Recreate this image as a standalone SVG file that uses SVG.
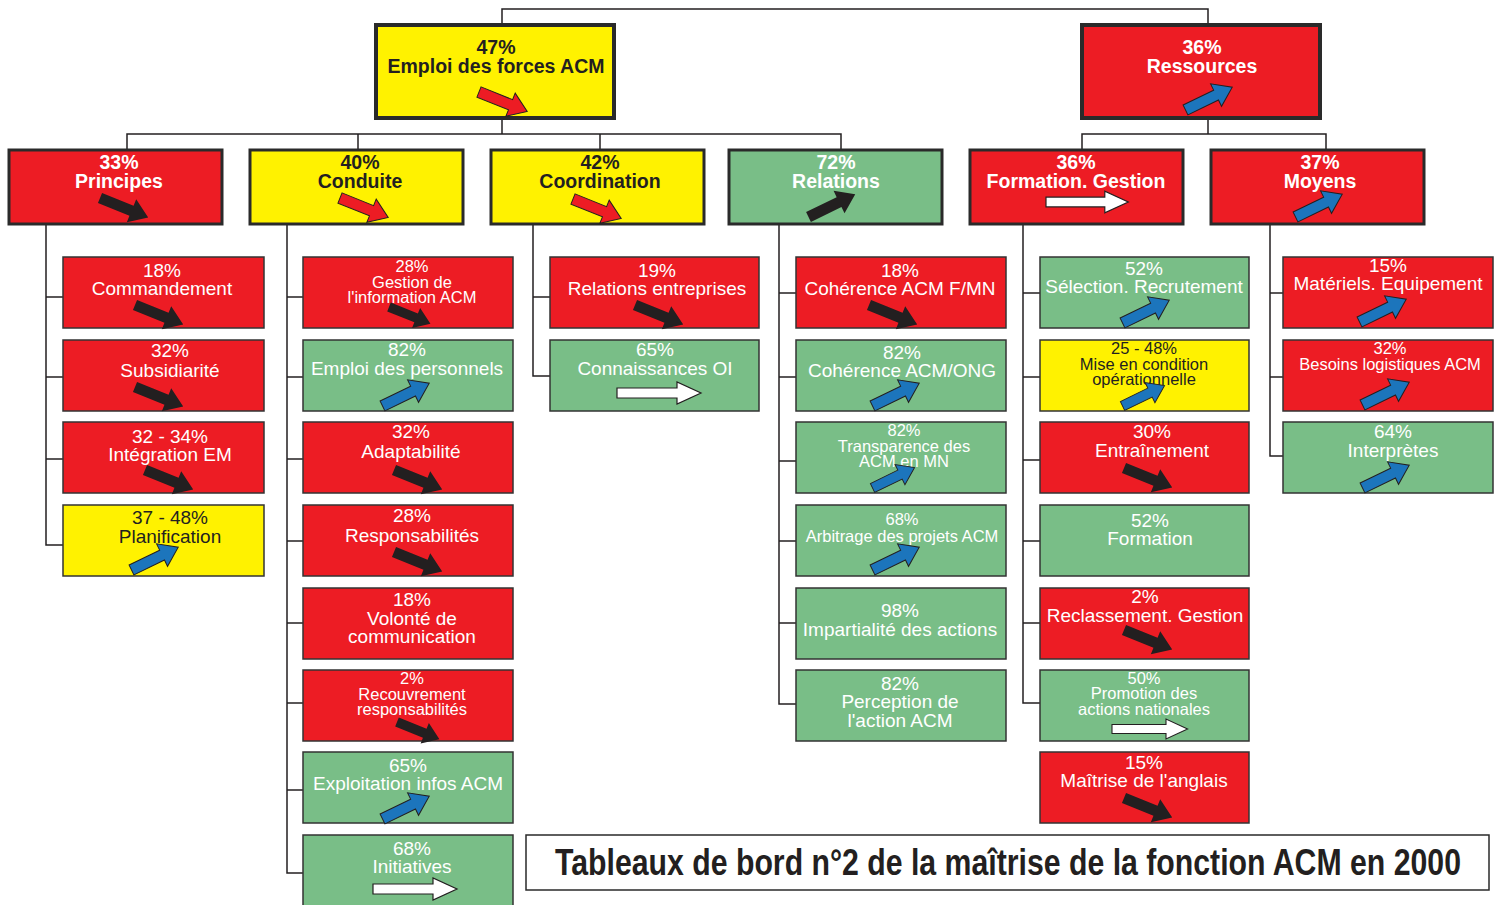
<svg xmlns="http://www.w3.org/2000/svg" xmlns:xlink="http://www.w3.org/1999/xlink" width="1505" height="905" viewBox="0 0 1505 905">
  <style>
    .r { fill: #ED1C24; }
    .y { fill: #FFF200; }
    .g { fill: #79BE87; }
    .b1 { stroke: #2A2A2A; stroke-width: 4; }
    .b2 { stroke: #2A2A2A; stroke-width: 3; }
    .b3 { stroke: #333333; stroke-width: 1.5; }
    text { font-family: "Liberation Sans", Arial, sans-serif; text-anchor: middle; }
    .w { fill: #FFFFFF; }
    .k { fill: #231F20; }
    .h { font-size: 19.5px; font-weight: bold; }
    .m { font-size: 19px; }
    .s { font-size: 16.5px; }
    .lines { fill: none; stroke: #231F20; stroke-width: 1.5; }
    .down { fill: #231F20; }
    .downred { fill: #ED1C24; stroke: #231F20; stroke-width: 1; }
    .up { fill: #1C75BC; stroke: #231F20; stroke-width: 1; }
    .upk { fill: #231F20; }
    .flat { fill: #FFFFFF; stroke: #231F20; stroke-width: 1.2; }
  </style>
  <defs>
    <!-- slanted block arrow, tail centre at origin, pointing along +x -->
    <path id="arr" d="M0,-5.5 L34,-5.5 L34,-12.5 L52,0 L34,12.5 L34,5.5 L0,5.5 Z"/>
    <!-- horizontal block arrow -->
    <path id="arrh" d="M0,-5 L60,-5 L60,-11 L84,0 L60,11 L60,5 L0,5 Z"/>
  </defs>

  <rect width="1505" height="905" fill="#FFFFFF"/>

  <!-- tree connectors -->
  <g id="connectors" class="lines">
    <polyline points="502,25 502,9 1208,9 1208,25"/>
    <line x1="502" y1="118" x2="502" y2="134"/>
    <polyline points="127,150 127,134 841,134 841,150"/>
    <line x1="358" y1="134" x2="358" y2="150"/>
    <line x1="600" y1="134" x2="600" y2="150"/>
    <line x1="1208" y1="118" x2="1208" y2="134"/>
    <polyline points="1082,150 1082,134 1326,134 1326,150"/>

    <polyline points="46,224 46,545 63,545"/>
    <line x1="46" y1="297" x2="63" y2="297"/>
    <line x1="46" y1="377" x2="63" y2="377"/>
    <line x1="46" y1="459" x2="63" y2="459"/>

    <polyline points="287,224 287,873 303,873"/>
    <line x1="287" y1="297" x2="303" y2="297"/>
    <line x1="287" y1="377" x2="303" y2="377"/>
    <line x1="287" y1="459" x2="303" y2="459"/>
    <line x1="287" y1="541" x2="303" y2="541"/>
    <line x1="287" y1="623" x2="303" y2="623"/>
    <line x1="287" y1="703" x2="303" y2="703"/>
    <line x1="287" y1="790" x2="303" y2="790"/>

    <polyline points="533,224 533,376 550,376"/>
    <line x1="533" y1="297" x2="550" y2="297"/>

    <polyline points="779,224 779,704 796,704"/>
    <line x1="779" y1="293" x2="796" y2="293"/>
    <line x1="779" y1="377" x2="796" y2="377"/>
    <line x1="779" y1="461" x2="796" y2="461"/>
    <line x1="779" y1="541" x2="796" y2="541"/>
    <line x1="779" y1="623" x2="796" y2="623"/>

    <polyline points="1023,224 1023,703 1040,703"/>
    <line x1="1023" y1="293" x2="1040" y2="293"/>
    <line x1="1023" y1="377" x2="1040" y2="377"/>
    <line x1="1023" y1="460" x2="1040" y2="460"/>
    <line x1="1023" y1="541" x2="1040" y2="541"/>
    <line x1="1023" y1="623" x2="1040" y2="623"/>

    <polyline points="1270,224 1270,456 1283,456"/>
    <line x1="1270" y1="293" x2="1283" y2="293"/>
    <line x1="1270" y1="377" x2="1283" y2="377"/>
  </g>

  <!-- level 1 -->
  <g id="emploi-forces">
    <rect x="376" y="25" width="238" height="93" class="y b1"/>
    <text class="h k" x="496" y="54">47%</text>
    <text class="h k" x="496" y="73">Emploi des forces ACM</text>
    <use xlink:href="#arr" class="downred" transform="translate(479,92) rotate(22)"/>
  </g>
  <g id="ressources">
    <rect x="1082" y="25" width="238" height="93" class="r b1"/>
    <text class="h w" x="1202" y="54">36%</text>
    <text class="h w" x="1202" y="73">Ressources</text>
    <use xlink:href="#arr" class="up" transform="translate(1185.5,110) rotate(-26)"/>
  </g>

  <!-- level 2 -->
  <g id="principes">
    <rect x="9" y="150" width="213" height="74" class="r b2"/>
    <text class="h w" x="119" y="169">33%</text>
    <text class="h w" x="119" y="188">Principes</text>
    <use xlink:href="#arr" class="down" transform="translate(100,198) rotate(22)"/>
  </g>
  <g id="conduite">
    <rect x="250" y="150" width="213" height="74" class="y b2"/>
    <text class="h k" x="360" y="169">40%</text>
    <text class="h k" x="360" y="188">Conduite</text>
    <use xlink:href="#arr" class="downred" transform="translate(340,198) rotate(22)"/>
  </g>
  <g id="coordination">
    <rect x="491" y="150" width="213" height="74" class="y b2"/>
    <text class="h k" x="600" y="169">42%</text>
    <text class="h k" x="600" y="188">Coordination</text>
    <use xlink:href="#arr" class="downred" transform="translate(573,199) rotate(22)"/>
  </g>
  <g id="relations">
    <rect x="729" y="150" width="213" height="74" class="g b2"/>
    <text class="h w" x="836" y="169">72%</text>
    <text class="h w" x="836" y="188">Relations</text>
    <use xlink:href="#arr" class="upk" transform="translate(808.5,217) rotate(-26)"/>
  </g>
  <g id="formation-gestion">
    <rect x="970" y="150" width="213" height="74" class="r b2"/>
    <text class="h w" x="1076" y="169">36%</text>
    <text class="h w" x="1076" y="188">Formation. Gestion</text>
    <use xlink:href="#arrh" class="flat" transform="translate(1046,202) scale(0.98)"/>
  </g>
  <g id="moyens">
    <rect x="1211" y="150" width="213" height="74" class="r b2"/>
    <text class="h w" x="1320" y="169">37%</text>
    <text class="h w" x="1320" y="188">Moyens</text>
    <use xlink:href="#arr" class="up" transform="translate(1295.5,217) rotate(-26)"/>
  </g>

  <!-- Principes branch -->
  <g id="commandement">
    <rect x="63" y="257" width="201" height="71" class="r b3"/>
    <text class="m w" x="162" y="277">18%</text>
    <text class="m w" x="162" y="295">Commandement</text>
    <use xlink:href="#arr" class="down" transform="translate(135,305) rotate(22)"/>
  </g>
  <g id="subsidiarite">
    <rect x="63" y="340" width="201" height="71" class="r b3"/>
    <text class="m w" x="170" y="357">32%</text>
    <text class="m w" x="170" y="377">Subsidiarité</text>
    <use xlink:href="#arr" class="down" transform="translate(135,387) rotate(22)"/>
  </g>
  <g id="integration-em">
    <rect x="63" y="422" width="201" height="71" class="r b3"/>
    <text class="m w" x="170" y="443">32 - 34%</text>
    <text class="m w" x="170" y="461">Intégration EM</text>
    <use xlink:href="#arr" class="down" transform="translate(145,470) rotate(22)"/>
  </g>
  <g id="planification">
    <rect x="63" y="505" width="201" height="71" class="y b3"/>
    <text class="m k" x="170" y="524">37 - 48%</text>
    <text class="m k" x="170" y="543">Planification</text>
    <use xlink:href="#arr" class="up" transform="translate(131.5,570) rotate(-26)"/>
  </g>

  <!-- Conduite branch -->
  <g id="gestion-information">
    <rect x="303" y="257" width="210" height="71" class="r b3"/>
    <text class="s w" x="412" y="272">28%</text>
    <text class="s w" x="412" y="288">Gestion de</text>
    <text class="s w" x="412" y="303">l'information ACM</text>
    <use xlink:href="#arr" class="down" transform="translate(389,307) rotate(22) scale(0.86)"/>
  </g>
  <g id="emploi-personnels">
    <rect x="303" y="340" width="210" height="71" class="g b3"/>
    <text class="m w" x="407" y="356">82%</text>
    <text class="m w" x="407" y="375">Emploi des personnels</text>
    <use xlink:href="#arr" class="up" transform="translate(382.5,406) rotate(-26)"/>
  </g>
  <g id="adaptabilite">
    <rect x="303" y="422" width="210" height="71" class="r b3"/>
    <text class="m w" x="411" y="438">32%</text>
    <text class="m w" x="411" y="458">Adaptabilité</text>
    <use xlink:href="#arr" class="down" transform="translate(394,470) rotate(22)"/>
  </g>
  <g id="responsabilites">
    <rect x="303" y="505" width="210" height="71" class="r b3"/>
    <text class="m w" x="412" y="522">28%</text>
    <text class="m w" x="412" y="542">Responsabilités</text>
    <use xlink:href="#arr" class="down" transform="translate(394,552) rotate(22)"/>
  </g>
  <g id="volonte-communication">
    <rect x="303" y="588" width="210" height="71" class="r b3"/>
    <text class="m w" x="412" y="606">18%</text>
    <text class="m w" x="412" y="625">Volonté de</text>
    <text class="m w" x="412" y="643">communication</text>
  </g>
  <g id="recouvrement">
    <rect x="303" y="670" width="210" height="71" class="r b3"/>
    <text class="s w" x="412" y="684">2%</text>
    <text class="s w" x="412" y="700">Recouvrement</text>
    <text class="s w" x="412" y="715">responsabilités</text>
    <use xlink:href="#arr" class="down" transform="translate(397,722) rotate(22) scale(0.88)"/>
  </g>
  <g id="exploitation-infos">
    <rect x="303" y="752" width="210" height="71" class="g b3"/>
    <text class="m w" x="408" y="772">65%</text>
    <text class="m w" x="408" y="790">Exploitation infos ACM</text>
    <use xlink:href="#arr" class="up" transform="translate(382.5,819) rotate(-26)"/>
  </g>
  <g id="initiatives">
    <rect x="303" y="835" width="210" height="80" class="g b3"/>
    <text class="m w" x="412" y="855">68%</text>
    <text class="m w" x="412" y="873">Initiatives</text>
    <use xlink:href="#arrh" class="flat" transform="translate(373,889)"/>
  </g>

  <!-- Coordination branch -->
  <g id="relations-entreprises">
    <rect x="550" y="257" width="209" height="71" class="r b3"/>
    <text class="m w" x="657" y="277">19%</text>
    <text class="m w" x="657" y="295">Relations entreprises</text>
    <use xlink:href="#arr" class="down" transform="translate(635,305) rotate(22)"/>
  </g>
  <g id="connaissances-oi">
    <rect x="550" y="340" width="209" height="71" class="g b3"/>
    <text class="m w" x="655" y="356">65%</text>
    <text class="m w" x="655" y="375">Connaissances OI</text>
    <use xlink:href="#arrh" class="flat" transform="translate(617,393)"/>
  </g>

  <!-- Relations branch -->
  <g id="coherence-fmn">
    <rect x="796" y="257" width="210" height="71" class="r b3"/>
    <text class="m w" x="900" y="277">18%</text>
    <text class="m w" x="900" y="295">Cohérence ACM F/MN</text>
    <use xlink:href="#arr" class="down" transform="translate(869,305) rotate(22)"/>
  </g>
  <g id="coherence-ong">
    <rect x="796" y="340" width="210" height="71" class="g b3"/>
    <text class="m w" x="902" y="359">82%</text>
    <text class="m w" x="902" y="377">Cohérence ACM/ONG</text>
    <use xlink:href="#arr" class="up" transform="translate(872.5,406) rotate(-26)"/>
  </g>
  <g id="transparence">
    <rect x="796" y="422" width="210" height="71" class="g b3"/>
    <text class="s w" x="904" y="436">82%</text>
    <text class="s w" x="904" y="452">Transparence des</text>
    <text class="s w" x="904" y="467">ACM en MN</text>
    <use xlink:href="#arr" class="up" transform="translate(872.5,488) rotate(-26) scale(0.9)"/>
  </g>
  <g id="arbitrage">
    <rect x="796" y="505" width="210" height="71" class="g b3"/>
    <text class="s w" x="902" y="525">68%</text>
    <text class="s w" x="902" y="542">Arbitrage des projets ACM</text>
    <use xlink:href="#arr" class="up" transform="translate(872.5,570) rotate(-26)"/>
  </g>
  <g id="impartialite">
    <rect x="796" y="588" width="210" height="71" class="g b3"/>
    <text class="m w" x="900" y="617">98%</text>
    <text class="m w" x="900" y="636">Impartialité des actions</text>
  </g>
  <g id="perception">
    <rect x="796" y="670" width="210" height="71" class="g b3"/>
    <text class="m w" x="900" y="690">82%</text>
    <text class="m w" x="900" y="708">Perception de</text>
    <text class="m w" x="900" y="727">l'action ACM</text>
  </g>

  <!-- Formation. Gestion branch -->
  <g id="selection">
    <rect x="1040" y="257" width="209" height="71" class="g b3"/>
    <text class="m w" x="1144" y="275">52%</text>
    <text class="m w" x="1144" y="293">Sélection. Recrutement</text>
    <use xlink:href="#arr" class="up" transform="translate(1122.5,323) rotate(-26)"/>
  </g>
  <g id="mise-en-condition">
    <rect x="1040" y="340" width="209" height="71" class="y b3"/>
    <text class="s k" x="1144" y="354">25 - 48%</text>
    <text class="s k" x="1144" y="370">Mise en condition</text>
    <text class="s k" x="1144" y="385">opérationnelle</text>
    <use xlink:href="#arr" class="up" transform="translate(1122.5,406) rotate(-26) scale(0.9)"/>
  </g>
  <g id="entrainement">
    <rect x="1040" y="422" width="209" height="71" class="r b3"/>
    <text class="m w" x="1152" y="438">30%</text>
    <text class="m w" x="1152" y="457">Entraînement</text>
    <use xlink:href="#arr" class="down" transform="translate(1124,468) rotate(22)"/>
  </g>
  <g id="formation">
    <rect x="1040" y="505" width="209" height="71" class="g b3"/>
    <text class="m w" x="1150" y="527">52%</text>
    <text class="m w" x="1150" y="545">Formation</text>
  </g>
  <g id="reclassement">
    <rect x="1040" y="588" width="209" height="71" class="r b3"/>
    <text class="m w" x="1145" y="603">2%</text>
    <text class="m w" x="1145" y="622">Reclassement. Gestion</text>
    <use xlink:href="#arr" class="down" transform="translate(1124,630) rotate(22)"/>
  </g>
  <g id="promotion">
    <rect x="1040" y="670" width="209" height="71" class="g b3"/>
    <text class="s w" x="1144" y="684">50%</text>
    <text class="s w" x="1144" y="699">Promotion des</text>
    <text class="s w" x="1144" y="715">actions nationales</text>
    <use xlink:href="#arrh" class="flat" transform="translate(1112,729) scale(0.9)"/>
  </g>
  <g id="anglais">
    <rect x="1040" y="752" width="209" height="71" class="r b3"/>
    <text class="m w" x="1144" y="769">15%</text>
    <text class="m w" x="1144" y="787">Maîtrise de l'anglais</text>
    <use xlink:href="#arr" class="down" transform="translate(1124,798) rotate(22)"/>
  </g>

  <!-- Moyens branch -->
  <g id="materiels">
    <rect x="1283" y="257" width="210" height="71" class="r b3"/>
    <text class="m w" x="1388" y="272">15%</text>
    <text class="m w" x="1388" y="290">Matériels. Equipement</text>
    <use xlink:href="#arr" class="up" transform="translate(1359.5,322) rotate(-26)"/>
  </g>
  <g id="besoins-logistiques">
    <rect x="1283" y="340" width="210" height="71" class="r b3"/>
    <text class="s w" x="1390" y="354">32%</text>
    <text class="s w" x="1390" y="370">Besoins logistiques ACM</text>
    <use xlink:href="#arr" class="up" transform="translate(1362.5,405) rotate(-26)"/>
  </g>
  <g id="interpretes">
    <rect x="1283" y="422" width="210" height="71" class="g b3"/>
    <text class="m w" x="1393" y="438">64%</text>
    <text class="m w" x="1393" y="457">Interprètes</text>
    <use xlink:href="#arr" class="up" transform="translate(1362.5,488) rotate(-26)"/>
  </g>

  <!-- caption -->
  <g id="caption">
    <rect x="526" y="835" width="963" height="55" fill="#FFFFFF" stroke="#2A2A2A" stroke-width="1.5"/>
    <text x="0" y="0" transform="translate(1008,875) scale(1,1.4)" fill="#231F20" font-family="'Liberation Sans Narrow', 'DejaVu Sans Condensed', sans-serif" font-weight="bold" font-size="26" textLength="906" lengthAdjust="spacingAndGlyphs">Tableaux de bord n°2 de la maîtrise de la fonction ACM en 2000</text>
  </g>
</svg>
